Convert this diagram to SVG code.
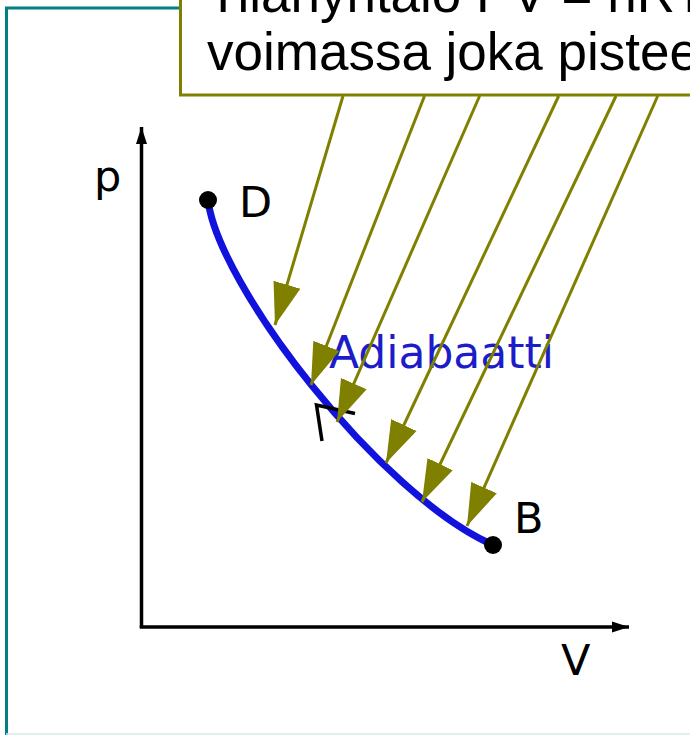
<svg xmlns="http://www.w3.org/2000/svg" width="690" height="735" viewBox="0 0 690 735">
  <style>
    .lbl { font-family: "DejaVu Sans", sans-serif; font-size: 43px; fill: #000; }
    .callout-text { font-family: "Liberation Sans", Arial, sans-serif; font-size: 53px; fill: #000; }
    .conn { stroke: #808000; stroke-width: 3; fill: none; marker-end: url(#olive-arrow); }
    .axis { stroke: #000; stroke-width: 3.5; fill: none; }
  </style>
  <defs>
    <marker id="olive-arrow" markerUnits="userSpaceOnUse" viewBox="0 -15 44 30" refX="42" refY="0" markerWidth="44" markerHeight="30" orient="auto">
      <path d="M0,-14 L42,0 L0,14 Z" fill="#808000"/>
    </marker>
    <marker id="black-arrow" markerUnits="userSpaceOnUse" viewBox="0 -7 18 14" refX="17" refY="0" markerWidth="18" markerHeight="14" orient="auto">
      <path d="M0,-5.5 L17,0 L0,5.5 Z" fill="#000"/>
    </marker>
  </defs>
  <rect width="690" height="735" fill="#fff"/>

  <g id="frame">
    <rect x="6.5" y="8" width="800" height="740" fill="none" stroke="#008080" stroke-width="3"/>
    <line x1="6" y1="734" x2="690" y2="734" stroke="#d3ecec" stroke-width="1.5"/>
  </g>

  <g id="axes">
    <line class="axis" x1="141.5" y1="628" x2="141.5" y2="127" marker-end="url(#black-arrow)"/>
    <line class="axis" x1="139.8" y1="627" x2="629" y2="627" marker-end="url(#black-arrow)"/>
    <text class="lbl" x="94" y="191">p</text>
    <text class="lbl" x="561" y="675">V</text>
  </g>

  <g id="adiabat">
    <path d="M208,200 C218,285 380,495 493,545" fill="none" stroke="#1212dd" stroke-width="7"/>
    <polyline points="322,441 316.5,405 355,413.5" fill="none" stroke="#000" stroke-width="3.5"/>
    <text x="329" y="368" font-family="'DejaVu Sans', sans-serif" font-size="44" fill="#1c1cc8">Adiabaatti</text>
  </g>

  <g id="point-D">
    <circle cx="208" cy="200" r="9" fill="#000"/>
    <text class="lbl" x="239" y="217">D</text>
  </g>

  <g id="point-B">
    <circle cx="493" cy="545" r="9" fill="#000"/>
    <text class="lbl" x="514" y="533">B</text>
  </g>

  <g id="callout">
    <rect x="180.5" y="-60" width="600" height="155" fill="#fff" stroke="#808000" stroke-width="3"/>
    <text class="callout-text" x="207" y="12">Tilanyhtälö PV = nRT</text>
    <text class="callout-text" x="207" y="70">voimassa joka pisteessä</text>
  </g>

  <g id="connectors">
    <line class="conn" x1="343" y1="96" x2="275" y2="325"/>
    <line class="conn" x1="424.5" y1="96" x2="311" y2="385"/>
    <line class="conn" x1="479.6" y1="96" x2="337" y2="422"/>
    <line class="conn" x1="558.7" y1="96" x2="386" y2="463"/>
    <line class="conn" x1="616" y1="96" x2="422" y2="502"/>
    <line class="conn" x1="657.7" y1="96" x2="467" y2="526"/>
  </g>
</svg>
